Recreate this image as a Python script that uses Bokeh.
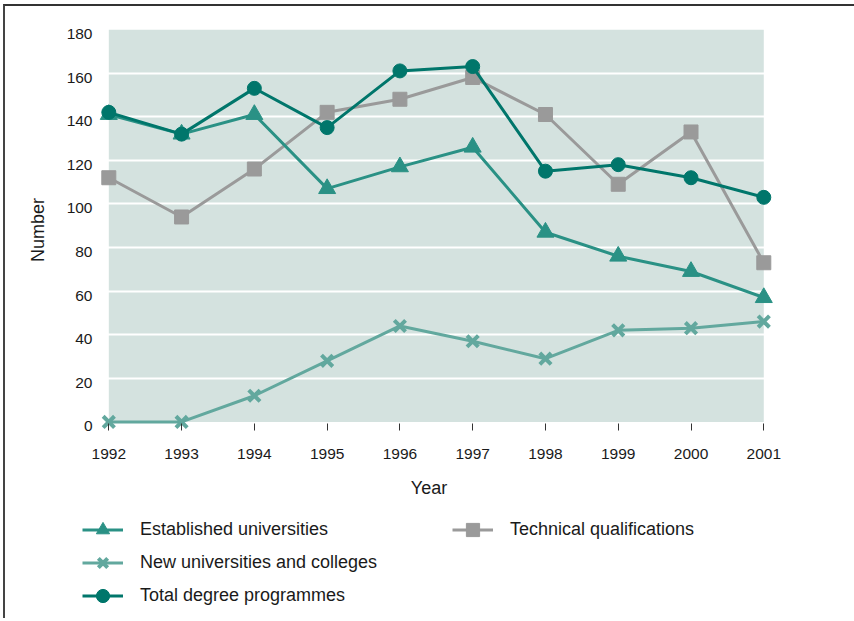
from bokeh.plotting import figure
from bokeh.layouts import column
from bokeh.models import Range1d, BoxAnnotation, Legend, LegendItem, FixedTicker, LinearAxis
from bokeh.embed import file_html
from bokeh.resources import INLINE

# ---- data ----
years = [1992, 1993, 1994, 1995, 1996, 1997, 1998, 1999, 2000, 2001]
established = [141, 132, 141, 107, 117, 126, 87, 76, 69, 57]
new_unis = [0, 0, 12, 28, 44, 37, 29, 42, 43, 46]
total = [142, 132, 153, 135, 161, 163, 115, 118, 112, 103]
technical = [112, 94, 116, 142, 148, 158, 141, 109, 133, 73]
y_ticks = [0, 20, 40, 60, 80, 100, 120, 140, 160, 180]
labels = ["Established universities", "New universities and colleges",
          "Total degree programmes", "Technical qualifications"]

# ---- style ----
FONT = "Liberation Sans"
TXT = "#1a1a1a"
C_EST = "#2a9185"
C_NEW = "#62a89e"
C_TOT = "#00766b"
C_TEC = "#9a9a9a"
BG = "#d4e2df"

W = 849
H1, H2 = 500, 112
x_pad_lo, x_pad_hi = 0.3615, 0.161
y_pad_lo = 3.95
lab_shift = 2.1   # y tick labels sit slightly below their grid lines

p = figure(width=W, height=H1,
           x_range=Range1d(years[0] - x_pad_lo, years[-1] + x_pad_hi),
           y_range=Range1d(y_ticks[0] - y_pad_lo, y_ticks[-1]),
           y_axis_location=None,
           output_backend="svg", toolbar_location=None,
           min_border_left=77, min_border_right=79,
           min_border_top=23, min_border_bottom=H1 - 23 - 401)
p.background_fill_color = "white"
p.border_fill_color = "white"
p.outline_line_color = None

box = BoxAnnotation(left=years[0], right=years[-1], bottom=y_ticks[0], top=y_ticks[-1],
                    fill_color=BG, fill_alpha=1.0, line_color=None, level="image")
p.add_layout(box)

p.xgrid.visible = False
p.ygrid.ticker = FixedTicker(ticks=y_ticks[1:-1])
p.ygrid.grid_line_color = "white"
p.ygrid.grid_line_width = 2

# x axis
p.xaxis.ticker = FixedTicker(ticks=years)
p.xaxis.axis_line_color = None
p.xaxis.major_tick_in = 7
p.xaxis.major_tick_out = 0
p.xaxis.major_tick_line_color = "#333333"
p.xaxis.major_tick_line_width = 1
p.xaxis.minor_tick_line_color = None
p.xaxis.major_label_standoff = 18
p.xaxis.major_label_text_font = FONT
p.xaxis.major_label_text_font_size = "15.5px"
p.xaxis.major_label_text_color = TXT
p.xaxis.axis_label = "Year"
p.xaxis.axis_label_text_font = FONT
p.xaxis.axis_label_text_font_size = "18px"
p.xaxis.axis_label_text_font_style = "normal"
p.xaxis.axis_label_text_color = TXT
p.xaxis.axis_label_standoff = 16

# y axis (labels on a slightly shifted range)
p.extra_y_ranges = {"lab": Range1d(y_ticks[0] - y_pad_lo + lab_shift, y_ticks[-1] + lab_shift)}
yax = LinearAxis(y_range_name="lab", ticker=FixedTicker(ticks=y_ticks))
yax.axis_line_color = None
yax.major_tick_line_color = None
yax.minor_tick_line_color = None
yax.major_label_standoff = -16
yax.major_label_text_font = FONT
yax.major_label_text_font_size = "15.5px"
yax.major_label_text_color = TXT
yax.axis_label = "Number"
yax.axis_label_text_font = FONT
yax.axis_label_text_font_size = "18px"
yax.axis_label_text_font_style = "normal"
yax.axis_label_text_color = TXT
yax.axis_label_standoff = 16
p.add_layout(yax, "left")


def draw_series(fig):
    r = {}
    r["tec"] = [fig.line(years, technical, line_color=C_TEC, line_width=3),
                fig.scatter(years, technical, marker="square", size=14, fill_color=C_TEC, line_color=C_TEC)]
    r["new"] = [fig.line(years, new_unis, line_color=C_NEW, line_width=3),
                fig.scatter(years, new_unis, marker="x", size=16, line_color=C_NEW, line_width=4)]
    r["est"] = [fig.line(years, established, line_color=C_EST, line_width=3),
                fig.scatter(years, established, marker="triangle", size=17, fill_color=C_EST, line_color=C_EST)]
    r["tot"] = [fig.line(years, total, line_color=C_TOT, line_width=3),
                fig.scatter(years, total, marker="circle", size=14, fill_color=C_TOT, line_color=C_TOT)]
    return r


draw_series(p)

# ---- legend strip (its own canvas, glyphs kept out of view) ----
q = figure(width=W, height=H2, x_range=Range1d(0, 1), y_range=Range1d(0, 1),
           x_axis_location=None, y_axis_location=None,
           output_backend="svg", toolbar_location=None,
           min_border_left=77, min_border_right=79, min_border_top=0, min_border_bottom=0)
q.grid.visible = False
q.outline_line_color = None
q.background_fill_color = "white"
q.border_fill_color = "white"
rq = draw_series(q)

legend = Legend(items=[
    LegendItem(label=labels[0], renderers=rq["est"]),
    LegendItem(label=labels[1], renderers=rq["new"]),
    LegendItem(label=labels[2], renderers=rq["tot"]),
    LegendItem(label=labels[3], renderers=rq["tec"]),
], location=(0, 6), orientation="vertical", nrows=3)
legend.background_fill_alpha = 0
legend.border_line_color = None
legend.padding = 0
legend.margin = 0
legend.spacing = 0
legend.glyph_width = 41
legend.glyph_height = 33
legend.label_height = 33
legend.label_width = 312
legend.label_standoff = 17
legend.label_text_font = FONT
legend.label_text_font_size = "18px"
legend.label_text_color = TXT
q.add_layout(legend, "center")

layout = column(p, q, spacing=0,
                styles={"margin-left": "3px", "margin-top": "4px",
                        "border-left": "2px solid #444", "border-top": "2px solid #333"})

open("out.html", "w").write(file_html(layout, INLINE))
